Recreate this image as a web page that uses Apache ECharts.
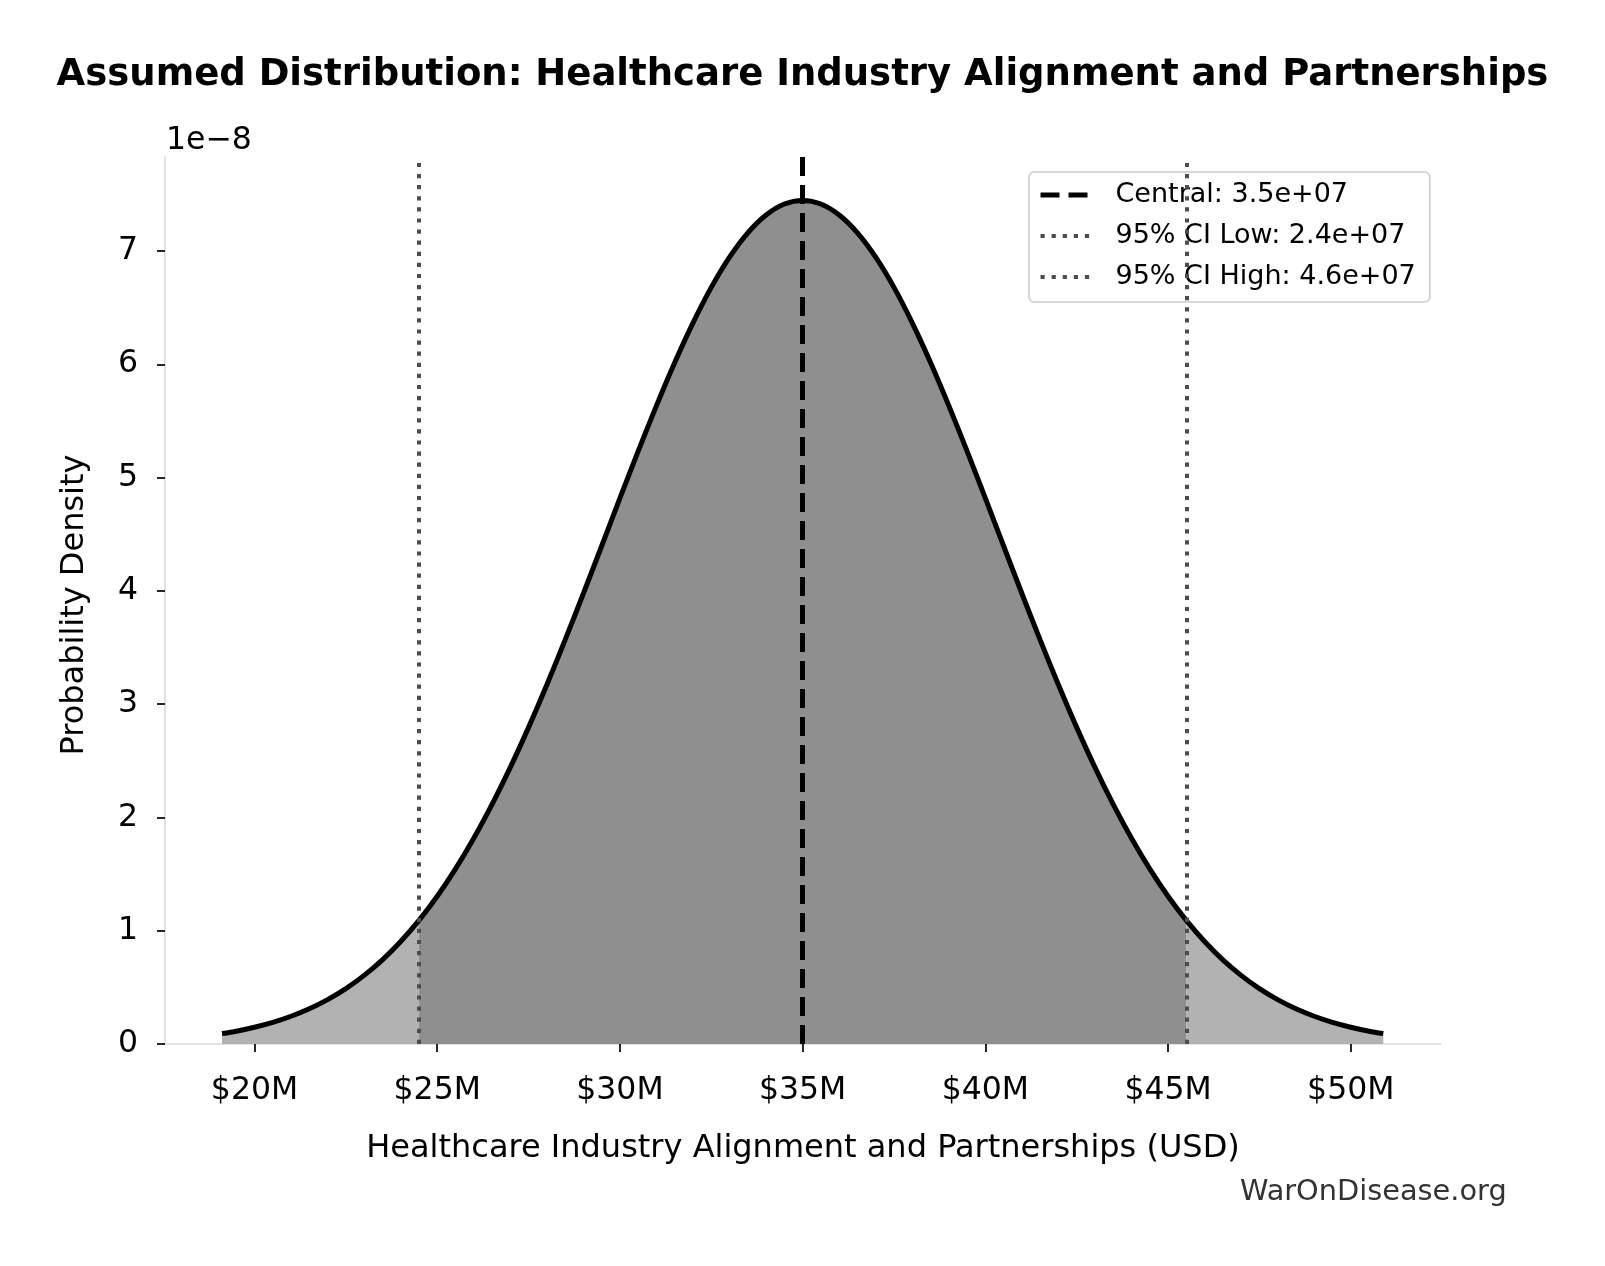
<!DOCTYPE html>
<html><head><meta charset="utf-8">
<script src="https://cdn.jsdelivr.net/npm/echarts@6/dist/echarts.min.js"></script>
<style>html,body{margin:0;padding:0;background:#fff}#c{width:1605px;height:1266px}</style>
</head><body><div id="c"></div>
<script>
// x positions in millions of USD
const xValuesM = [19.11, 19.5, 20, 20.5, 21, 21.5, 22, 22.5, 23, 23.5, 24, 24.5, 25, 25.5, 26, 26.5, 27, 27.5, 28, 28.5, 29, 29.5, 30, 30.5, 31, 31.5, 32, 32.5, 33, 33.5, 34, 34.5, 35,
  35.5, 36, 36.5, 37, 37.5, 38, 38.5, 39, 39.5, 40, 40.5, 41, 41.5, 42, 42.5, 43, 43.5, 44, 44.5, 45, 45.5, 46, 46.5, 47, 47.5, 48, 48.5, 49, 49.5, 50, 50.5, 50.89];
// probability density in units of 1e-8
const densityE8 = [0.092, 0.113, 0.148, 0.191, 0.245, 0.311, 0.392, 0.489, 0.606, 0.743, 0.905, 1.091, 1.304, 1.546, 1.816, 2.115, 2.442, 2.795, 3.171, 3.567, 3.977, 4.396, 4.818, 5.233, 5.635, 6.016, 6.366, 6.679, 6.946, 7.161, 7.318, 7.415, 7.447,
  7.415, 7.318, 7.161, 6.946, 6.679, 6.366, 6.016, 5.635, 5.233, 4.818, 4.396, 3.977, 3.567, 3.171, 2.795, 2.442, 2.115, 1.816, 1.546, 1.304, 1.091, 0.905, 0.743, 0.606, 0.489, 0.392, 0.311, 0.245, 0.191, 0.148, 0.113, 0.092];
const centralM = 35;
const ciLowM = 24.5;
const ciHighM = 45.5;
const legendLabels = ['Central: 3.5e+07', '95% CI Low: 2.4e+07', '95% CI High: 4.6e+07'];
const xTicks = [20, 25, 30, 35, 40, 45, 50];
const yTicks = [0, 1, 2, 3, 4, 5, 6, 7];

const FONT = 'DejaVu Sans';
const pts = xValuesM.map((x, i) => [x, densityE8[i]]);
const leftTail = pts.filter(p => p[0] <= ciLowM);
const middle = pts.filter(p => p[0] >= ciLowM && p[0] <= ciHighM);
const rightTail = pts.filter(p => p[0] >= ciHighM);

const chart = echarts.init(document.getElementById('c'));
const areaSeries = (data, color) => ({
  type: 'line', data, smooth: 0.3, symbol: 'none', silent: true,
  lineStyle: { width: 0 }, areaStyle: { color, opacity: 1 }, z: 1
});
const vline = (name, x, color, width, dash) => ({
  name, type: 'line', data: [], symbol: 'none',
  lineStyle: { color, width, type: dash },
  itemStyle: { color, opacity: 0 },
  markLine: {
    silent: true, symbol: ['none', 'none'], label: { show: false },
    lineStyle: { color, width, type: dash, opacity: 1 },
    emphasis: { disabled: true },
    data: [{ xAxis: x }]
  },
  z: 4
});

chart.setOption({
  animation: false,
  backgroundColor: '#ffffff',
  grid: { left: 165, right: 164, top: 157, bottom: 222 },
  xAxis: {
    type: 'value', min: 17.55, max: 52.47,
    axisLine: { show: true, lineStyle: { color: '#d9d9d9', width: 1.5 } },
    axisTick: { show: true, length: 8, customValues: xTicks, lineStyle: { color: '#000', width: 1.7 } },
    axisLabel: { customValues: xTicks, formatter: v => '$' + v + 'M', fontFamily: FONT, fontSize: 31.5, color: '#000', margin: 31 },
    splitLine: { show: false }
  },
  yAxis: {
    type: 'value', min: 0, max: 7.83,
    axisLine: { show: true, lineStyle: { color: '#d9d9d9', width: 1.5 } },
    axisTick: { show: true, length: 8, customValues: yTicks, lineStyle: { color: '#000', width: 1.7 } },
    axisLabel: { customValues: yTicks, fontFamily: FONT, fontSize: 31.5, color: '#000', margin: 27 },
    splitLine: { show: false }
  },
  legend: {
    orient: 'vertical', left: 1029, top: 172,
    padding: [8, 14, 10, 9],
    itemWidth: 49, itemHeight: 14, itemGap: 11,
    backgroundColor: 'rgba(255,255,255,0.8)',
    borderColor: '#cccccc', borderWidth: 1.5, borderRadius: 5,
    lineStyle: { width: 'inherit' },
    itemStyle: { color: 'rgba(0,0,0,0)', borderColor: 'rgba(0,0,0,0)', borderWidth: 0, opacity: 0 },
    textStyle: { fontFamily: FONT, fontSize: 27, color: '#000', lineHeight: 30, padding: [0, 0, 0, 21] },
    data: legendLabels,
    selectedMode: false
  },
  series: [
    areaSeries(leftTail, '#b2b2b2'),
    areaSeries(rightTail, '#b2b2b2'),
    areaSeries(middle, '#8f8f8f'),
    {
      type: 'line', data: pts, smooth: 0.3, symbol: 'none', silent: true,
      lineStyle: { color: '#000', width: 5 }, z: 3
    },
    vline(legendLabels[0], centralM, '#000000', 5, [19, 9]),
    vline(legendLabels[1], ciLowM, '#4d4d4d', 4, [4.2, 6.9]),
    vline(legendLabels[2], ciHighM, '#4d4d4d', 4, [4.2, 6.9])
  ],
  graphic: [
    { type: 'text', x: 802.5, y: 75, style: { text: 'Assumed Distribution: Healthcare Industry Alignment and Partnerships', fontFamily: FONT, fontSize: 37, fontWeight: 'bold', fill: '#000', align: 'center', verticalAlign: 'middle' } },
    { type: 'text', x: 166, y: 141, style: { text: '1e\u22128', fontFamily: FONT, fontSize: 31.5, fill: '#000', align: 'left', verticalAlign: 'middle' } },
    { type: 'text', x: 75, y: 605, rotation: Math.PI / 2, style: { text: 'Probability Density', fontFamily: FONT, fontSize: 32, fill: '#000', align: 'center', verticalAlign: 'middle' } },
    { type: 'text', x: 803, y: 1149, style: { text: 'Healthcare Industry Alignment and Partnerships (USD)', fontFamily: FONT, fontSize: 32, fill: '#000', align: 'center', verticalAlign: 'middle' } },
    { type: 'text', x: 1240, y: 1193, style: { text: 'WarOnDisease.org', fontFamily: FONT, fontSize: 28.8, fill: '#333333', align: 'left', verticalAlign: 'middle' } }
  ]
});
</script>
</body></html>
